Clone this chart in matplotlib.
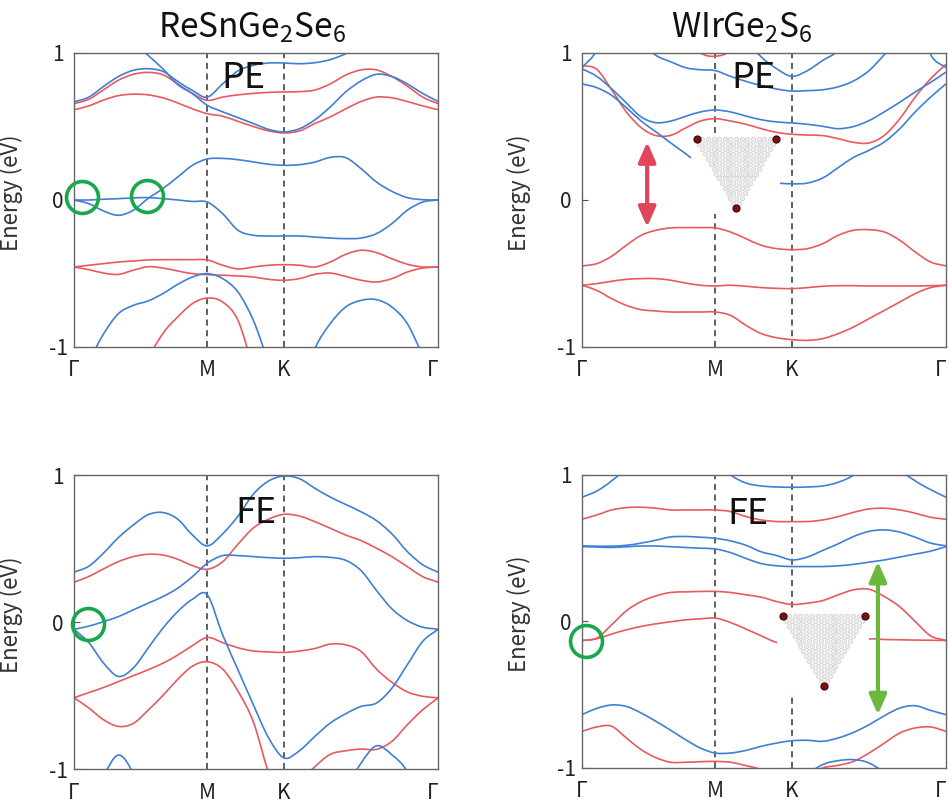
import numpy as np
import matplotlib
matplotlib.use('Agg')
import matplotlib.pyplot as plt
from matplotlib.path import Path
from matplotlib.patches import PathPatch

plt.rcParams['font.family'] = ['Noto Sans CJK JP', 'DejaVu Sans']
plt.rcParams['mathtext.fontset'] = 'custom'
plt.rcParams['mathtext.rm'] = 'Noto Sans CJK JP'
plt.rcParams['mathtext.default'] = 'regular'

# k path: Gamma - M - K - Gamma (normalised length)
K_M, K_K = 0.366, 0.577
K = np.r_[np.linspace(0, K_M, 10), np.linspace(K_M, K_K, 6)[1:],
          np.linspace(K_K, 1, 11)[1:]]
KPOINTS = [0, K_M, K_K, 1]
KLABELS = ['Γ', 'M', 'K', 'Γ']

# ---- ReSnGe2Se6, PE ----
tl_blue = [
    [0.667, 0.70, 0.773, 0.84, 0.882, 0.893, 0.875, 0.807, 0.745, 0.70, 0.79, 0.878,
     0.916, 0.932, 0.932, 0.927, 0.934, 0.955, 0.995, 1.05, 1.1, 1.1, 1.1, 1.1, 1.1],
    [1.4, 1.3, 1.2, 1.12, 1.08, 0.984, 0.893, 0.785, 0.723, 0.644, 0.60, 0.56, 0.52,
     0.48, 0.463, 0.485, 0.545, 0.633, 0.735, 0.81, 0.855, 0.84, 0.79, 0.725, 0.671],
    [0.0, -0.025, -0.075, -0.104, -0.07, 0.01, 0.077, 0.156, 0.236, 0.279, 0.283, 0.274,
     0.259, 0.243, 0.236, 0.24, 0.258, 0.29, 0.288, 0.213, 0.122, 0.059, 0.016, 0.002, 0.0],
    [0.0, 0.0, 0.005, 0.009, 0.014, 0.016, 0.009, 0.0, -0.01, -0.014, -0.093, -0.206,
     -0.24, -0.245, -0.245, -0.245, -0.252, -0.259, -0.263, -0.259, -0.229, -0.161,
     -0.07, -0.014, 0.0],
    [-1.3, -1.1, -0.91, -0.773, -0.717, -0.687, -0.637, -0.574, -0.524, -0.501, -0.535,
     -0.626, -0.819, -1.1] + [-1.3] * 11,
    [-1.3] * 16 + [-1.01, -0.841, -0.728, -0.683, -0.678, -0.728, -0.841, -1.06, -1.3],
]
tl_red = [
    [0.655, 0.685, 0.75, 0.815, 0.855, 0.868, 0.852, 0.79, 0.725, 0.678, 0.70, 0.715,
     0.725, 0.732, 0.735, 0.737, 0.748, 0.79, 0.85, 0.885, 0.885, 0.84, 0.775, 0.70, 0.655],
    [0.614, 0.64, 0.68, 0.71, 0.72, 0.715, 0.695, 0.66, 0.62, 0.587, 0.57, 0.535, 0.50,
     0.47, 0.456, 0.47, 0.52, 0.565, 0.62, 0.67, 0.70, 0.695, 0.67, 0.64, 0.614],
    [-0.456, -0.444, -0.433, -0.422, -0.415, -0.408, -0.406, -0.406, -0.406, -0.408,
     -0.444, -0.469, -0.456, -0.444, -0.44, -0.444, -0.456, -0.422, -0.37, -0.342,
     -0.358, -0.40, -0.437, -0.456, -0.456],
    [-0.456, -0.474, -0.497, -0.506, -0.478, -0.454, -0.463, -0.483, -0.501, -0.508,
     -0.512, -0.517, -0.524, -0.54, -0.546, -0.535, -0.506, -0.497, -0.52, -0.546,
     -0.558, -0.535, -0.49, -0.463, -0.456],
    [-1.5] * 5 + [-1.1, -0.909, -0.796, -0.705, -0.667, -0.694, -0.819, -1.15] + [-1.5] * 12,
]

# ---- WIrGe2S6, PE ----
tr_blue = [
    [0.90, 1.02] + [1.3] * 21 + [0.99, 0.90],
    [1.3] * 11 + [1.1, 0.973, 0.893, 0.841, 0.88, 0.95, 1.02, 1.2] + [1.3] * 6,
    [1.3, 1.3, 1.3, 1.3, 1.08, 0.984, 0.94, 0.90, 0.886, 0.88, 0.841, 0.807, 0.778,
     0.755, 0.741, 0.744, 0.75, 0.77, 0.81, 0.88, 0.99, 1.12, 1.3, 1.3, 1.3],
    [0.893, 0.841, 0.757, 0.66, 0.565, 0.526, 0.537, 0.569, 0.599, 0.612, 0.599, 0.571,
     0.546, 0.531, 0.524, 0.515, 0.501, 0.485, 0.50, 0.54, 0.60, 0.665, 0.735, 0.80, 0.87],
    [0.79, 0.764, 0.712, 0.628, 0.537, 0.463, 0.388, 0.315, 0.24, 0.2, 0.16, 0.13, 0.12,
     0.115, 0.11, 0.115, 0.15, 0.22, 0.29, 0.338, 0.395, 0.485, 0.599, 0.70, 0.79],
]
tr_red = [
    [0.916, 0.889, 0.75, 0.599, 0.492, 0.438, 0.44, 0.49, 0.537, 0.553, 0.537, 0.515,
     0.485, 0.46, 0.447, 0.442, 0.438, 0.417, 0.392, 0.388, 0.44, 0.553, 0.70, 0.825, 0.923],
    [1.3] * 7 + [1.1, 1.0, 0.978, 1.02, 1.2] + [1.3] * 13,
    [-0.449, -0.433, -0.383, -0.308, -0.24, -0.206, -0.19, -0.188, -0.188, -0.19,
     -0.218, -0.263, -0.308, -0.331, -0.338, -0.331, -0.297, -0.24, -0.206, -0.202,
     -0.218, -0.274, -0.354, -0.422, -0.449],
    [-0.58, -0.569, -0.553, -0.54, -0.535, -0.535, -0.546, -0.565, -0.58, -0.585, -0.58,
     -0.587, -0.596, -0.601, -0.603, -0.596, -0.587, -0.583, -0.583, -0.585, -0.585,
     -0.585, -0.585, -0.583, -0.58],
    [-0.58, -0.615, -0.671, -0.717, -0.746, -0.755, -0.762, -0.762, -0.762, -0.762,
     -0.785, -0.853, -0.909, -0.937, -0.95, -0.955, -0.943, -0.909, -0.864, -0.807,
     -0.751, -0.694, -0.637, -0.596, -0.58],
]

# ---- ReSnGe2Se6, FE ----
bl_blue = [
    [0.339, 0.38, 0.47, 0.575, 0.66, 0.73, 0.745, 0.70, 0.592, 0.518, 0.60, 0.72, 0.87,
     0.96, 0.993, 0.975, 0.91, 0.85, 0.80, 0.75, 0.69, 0.60, 0.48, 0.39, 0.339],
    [-0.049, -0.028, 0.003, 0.037, 0.083, 0.128, 0.173, 0.23, 0.309, 0.40, 0.452, 0.452,
     0.445, 0.438, 0.434, 0.438, 0.445, 0.44, 0.42, 0.35, 0.215, 0.09, 0.01, -0.035, -0.049],
    [-0.049, -0.14, -0.28, -0.37, -0.313, -0.178, -0.042, 0.071, 0.155, 0.185, -0.087,
     -0.325, -0.563, -0.789, -0.925, -0.875, -0.778, -0.687, -0.624, -0.574, -0.551,
     -0.45, -0.291, -0.132, -0.049],
    [-1.5, -1.3, -1.05, -0.905, -1.03, -1.3] + [-1.5] * 19,
    [-1.5] * 18 + [-1.15, -0.96, -0.842, -0.903, -1.02, -1.3, -1.5],
]
bl_red = [
    [0.271, 0.31, 0.362, 0.411, 0.445, 0.461, 0.456, 0.427, 0.384, 0.359, 0.41, 0.53,
     0.64, 0.70, 0.733, 0.721, 0.683, 0.638, 0.592, 0.554, 0.502, 0.445, 0.377, 0.309, 0.271],
    [-0.515, -0.48, -0.445, -0.405, -0.365, -0.325, -0.28, -0.225, -0.16, -0.105, -0.14,
     -0.175, -0.197, -0.203, -0.207, -0.197, -0.18, -0.15, -0.155, -0.2, -0.32, -0.41,
     -0.475, -0.505, -0.515],
    [-0.515, -0.585, -0.665, -0.71, -0.69, -0.6, -0.5, -0.39, -0.30, -0.27, -0.32, -0.47,
     -0.68, -1.03, -1.3] + [-1.5] * 10,
    [-1.5] * 14 + [-1.4, -1.1, -0.985, -0.90, -0.876, -0.864, -0.866, -0.812, -0.699,
                   -0.597, -0.517],
]

# ---- WIrGe2S6, FE ----
br_blue = [
    [0.848, 0.89, 0.96, 1.06] + [1.3] * 17 + [1.05, 0.96, 0.9, 0.848],
    [1.3] * 9 + [1.1, 1.0, 0.945, 0.925, 0.918, 0.916, 0.918, 0.925, 0.95, 1.0, 1.1] + [1.3] * 5,
    [0.516, 0.514, 0.514, 0.52, 0.535, 0.555, 0.577, 0.58, 0.575, 0.568, 0.55, 0.52,
     0.475, 0.45, 0.42, 0.44, 0.485, 0.53, 0.58, 0.615, 0.625, 0.61, 0.575, 0.535, 0.516],
    [0.511, 0.508, 0.505, 0.51, 0.515, 0.515, 0.51, 0.505, 0.5, 0.495, 0.47, 0.43, 0.395,
     0.38, 0.375, 0.375, 0.375, 0.38, 0.39, 0.405, 0.42, 0.44, 0.46, 0.48, 0.511],
    [-0.636, -0.593, -0.57, -0.58, -0.625, -0.682, -0.743, -0.807, -0.864, -0.898, -0.898,
     -0.88, -0.852, -0.83, -0.814, -0.811, -0.818, -0.795, -0.757, -0.705, -0.643,
     -0.591, -0.575, -0.607, -0.636],
    [-1.3] * 14 + [-1.2, -1.05, -0.977, -0.95, -0.943, -0.966, -1.04, -1.2] + [-1.3] * 3,
]
br_red = [
    [0.698, 0.727, 0.761, 0.777, 0.78, 0.773, 0.761, 0.761, 0.761, 0.761, 0.75, 0.716,
     0.693, 0.682, 0.682, 0.682, 0.693, 0.716, 0.745, 0.768, 0.773, 0.761, 0.739, 0.711, 0.698],
    [-0.13, -0.114, -0.023, 0.073, 0.136, 0.175, 0.198, 0.202, 0.205, 0.205, 0.198, 0.182,
     0.166, 0.136, 0.116, 0.125, 0.143, 0.182, 0.216, 0.22, 0.17, 0.10, 0.0, -0.098, -0.13],
    [-0.13, -0.118, -0.086, -0.057, -0.034, -0.016, -0.002, 0.011, 0.018, 0.023, -0.007,
     -0.052, -0.098, -0.143, -0.15, -0.15, -0.15, -0.15, -0.15, -0.12, -0.123, -0.125,
     -0.127, -0.128, -0.13],
    [-0.75, -0.72, -0.715, -0.795, -0.875, -0.93, -0.961, -0.961, -0.957, -0.955, -0.961,
     -0.984, -1.01, -1.05, -1.1, -1.06, -1.0, -0.982, -0.955, -0.898, -0.83, -0.761,
     -0.727, -0.72, -0.75],
]

BLUE = '#3f7fd4'
RED = '#e85a5e'
GREEN = '#17a84a'


def smooth_band(ax, e, color):
    """Draw a band as a smooth (Catmull-Rom style) curve through the read points."""
    p = np.column_stack([K, e])
    m = np.empty_like(p)
    m[1:-1] = (p[2:] - p[:-2]) / 2
    m[0] = p[1] - p[0]
    m[-1] = p[-1] - p[-2]
    verts = [p[0]]
    codes = [Path.MOVETO]
    for i in range(len(p) - 1):
        verts += [p[i] + m[i] / 3, p[i + 1] - m[i + 1] / 3, p[i + 1]]
        codes += [Path.CURVE4] * 3
    ax.add_patch(PathPatch(Path(verts, codes), fill=False, edgecolor=color,
                           lw=1.2, zorder=2))


def draw_panel(ax, blue, red, tag, tag_x, tag_y):
    ax.axvline(K_M, color='#333333', ls=(0, (4, 3)), lw=1.1, zorder=1)
    ax.axvline(K_K, color='#333333', ls=(0, (4, 3)), lw=1.1, zorder=1)
    for e in red:
        smooth_band(ax, e, RED)
    for e in blue:
        smooth_band(ax, e, BLUE)
    ax.set_xlim(0, 1)
    ax.set_ylim(-1, 1)
    ax.set_xticks(KPOINTS)
    ax.set_xticklabels(KLABELS)
    ax.get_xticklabels()[-1].set_ha('right')
    ax.set_yticks([-1, 0, 1])
    ax.set_yticklabels(['-1', '0', '1'], ha='center')
    ax.tick_params(axis='y', direction='in', length=4, pad=11.5, labelsize=15,
                   color='#555555', labelcolor='#222222')
    ax.tick_params(axis='x', length=0, pad=9, labelsize=15, labelcolor='#222222')
    for s in ax.spines.values():
        s.set_color('#666666')
        s.set_linewidth(1.0)
    ax.set_ylabel('Energy (eV)', fontsize=16, color='#333333')
    ax.yaxis.set_label_coords(-0.141, 0.526)
    ax.text(tag_x, tag_y, tag, transform=ax.transAxes, ha='center',
            va='baseline', fontsize=26, color='#111111')


def draw_lattice(ax, rect):
    ins = ax.inset_axes(rect, zorder=3)
    ins.set_facecolor('white')
    ins.set_xticks([])
    ins.set_yticks([])
    for s in ins.spines.values():
        s.set_visible(False)
    n = 15
    xs, ys = [], []
    for row in range(n):
        for i in range(n - row):
            xs.append(i + row * 0.5)
            ys.append(-row * 0.866)
    corner = [(0, 0), (n - 1, 0), ((n - 1) * 0.5, -(n - 1) * 0.866)]
    gx = [x for x, y in zip(xs, ys) if (x, y) not in corner]
    gy = [y for x, y in zip(xs, ys) if (x, y) not in corner]
    ins.scatter(gx, gy, s=11, facecolor='#ececec', edgecolor='#d2d2d2', lw=0.5)
    ins.scatter([c[0] for c in corner], [c[1] for c in corner], s=26,
                facecolor='#7a1010', edgecolor='#3a0505', lw=0.8)
    ins.set_xlim(-1, 14.7)
    ins.set_ylim(-13.3, 1)


fig = plt.figure(figsize=(9.48, 8.09), dpi=100)
ax_tl = fig.add_axes([0.0781, 0.5711, 0.3840, 0.3634])
ax_tr = fig.add_axes([0.6139, 0.5711, 0.3840, 0.3634])
ax_bl = fig.add_axes([0.0781, 0.0494, 0.3840, 0.3634])
ax_br = fig.add_axes([0.6139, 0.0507, 0.3840, 0.3622])

draw_panel(ax_tl, tl_blue, tl_red, 'PE', 0.466, 0.881)
draw_panel(ax_tr, tr_blue, tr_red, 'PE', 0.47, 0.881)
draw_panel(ax_bl, bl_blue, bl_red, 'FE', 0.50, 0.836)
draw_panel(ax_br, br_blue, br_red, 'FE', 0.456, 0.833)

fig.text(0.266, 1 - 37 / 809, 'ReSnGe$_2$Se$_6$', ha='center', va='baseline',
         fontsize=24, color='#111111')
fig.text(0.783, 1 - 37 / 809, 'WIrGe$_2$S$_6$', ha='center', va='baseline',
         fontsize=24, color='#111111')

# Dirac-like points
ax_tl.plot([0.021, 0.2], [0.02, 0.025], 'o', ms=23, mfc='none', mec=GREEN, mew=2.6,
           clip_on=False, zorder=5)
ax_bl.plot([0.038], [-0.012], 'o', ms=23, mfc='none', mec=GREEN, mew=2.6,
           clip_on=False, zorder=5)
ax_br.plot([0.01], [-0.13], 'o', ms=23, mfc='none', mec=GREEN, mew=2.6,
           clip_on=False, zorder=5)

# gap arrows
ax_tr.annotate('', xy=(0.179, 0.395), xytext=(0.179, -0.184),
               arrowprops=dict(arrowstyle='<|-|>,head_length=0.8,head_width=0.35',
                               color='#e0455c', lw=3, shrinkA=0, shrinkB=0,
                               mutation_scale=15), zorder=4)
ax_br.annotate('', xy=(0.813, 0.409), xytext=(0.813, -0.636),
               arrowprops=dict(arrowstyle='<|-|>,head_length=0.8,head_width=0.35',
                               color='#6cb83c', lw=3, shrinkA=0, shrinkB=0,
                               mutation_scale=15), zorder=4)

draw_lattice(ax_tr, [0.2996, 0.4511, 0.243, 0.2744])
draw_lattice(ax_br, [0.5362, 0.255, 0.2514, 0.2846])

fig.savefig('out.png', dpi=100)
